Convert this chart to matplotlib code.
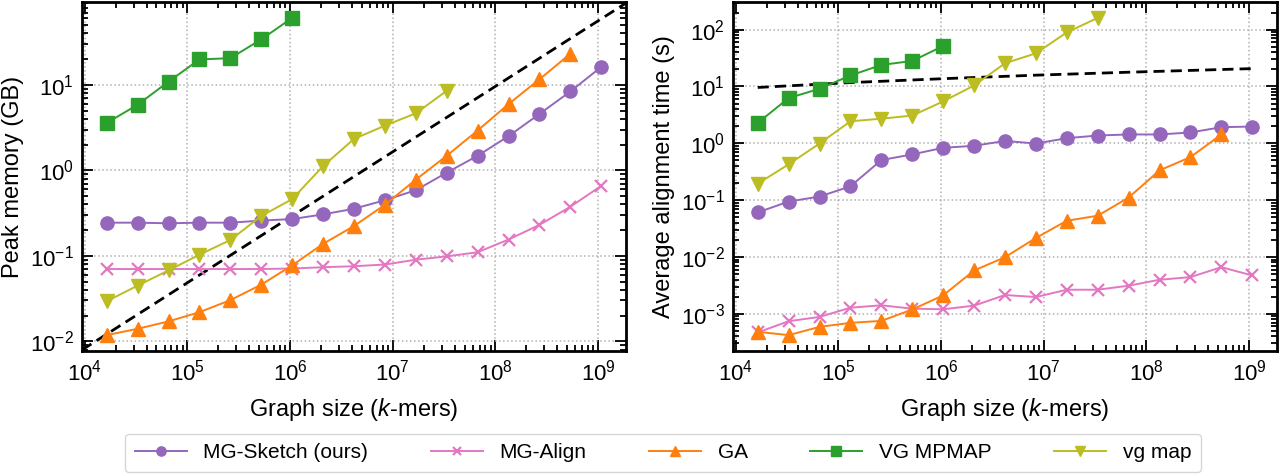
import numpy as np
import matplotlib
matplotlib.use("Agg")
import matplotlib.pyplot as plt

plt.rcParams['font.family'] = ['Liberation Sans', 'DejaVu Sans']
plt.rcParams['mathtext.fontset'] = 'custom'
plt.rcParams['mathtext.rm'] = 'Liberation Sans'
plt.rcParams['mathtext.it'] = 'Liberation Sans:italic'
plt.rcParams['mathtext.bf'] = 'Liberation Sans:bold'

# Graph sizes (k-mers): 2^14 .. 2^30
graph_size = [2.0 ** p for p in range(14, 31)]

labels = ["MG-Sketch (ours)", "MG-Align", "GA", "VG MPMAP", "vg map"]
colors = ["#9467bd", "#e377c2", "#ff7f0e", "#2ca02c", "#bcbd22"]
markers = ["o", "x", "^", "s", "v"]

# Peak memory (GB)
mem_mgsketch = [0.244, 0.244, 0.240, 0.244, 0.244, 0.258, 0.269, 0.305, 0.355,
                0.447, 0.585, 0.939, 1.48, 2.51, 4.56, 8.36, 16.2]
mem_mgalign = [0.070, 0.070, 0.070, 0.070, 0.070, 0.070, 0.071, 0.0735, 0.0755,
               0.0790, 0.0900, 0.0985, 0.110, 0.155, 0.230, 0.375, 0.658]
mem_ga = [0.0118, 0.0140, 0.0171, 0.0219, 0.0303, 0.0460, 0.0773, 0.138, 0.223,
          0.395, 0.778, 1.48, 2.92, 5.96, 11.6, 23.1]
mem_vgmpmap = [3.58, 5.85, 10.9, 19.8, 20.5, 34.0, 60.7]
mem_vgmap = [0.0294, 0.0448, 0.0675, 0.103, 0.153, 0.292, 0.460, 1.12, 2.33,
             3.33, 4.64, 8.51]

# Average alignment time (s)
time_mgsketch = [0.0607, 0.0945, 0.1155, 0.175, 0.507, 0.637, 0.833, 0.903, 1.10,
                 0.99, 1.23, 1.37, 1.43, 1.43, 1.55, 1.92, 1.97]
time_mgalign = [0.000469, 0.000740, 0.000881, 0.00128, 0.00141, 0.00123, 0.00120,
                0.00139, 0.00214, 0.00197, 0.00265, 0.00265, 0.00312, 0.00397,
                0.00442, 0.00661, 0.00472]
time_ga = [0.000482, 0.000421, 0.000589, 0.000692, 0.000750, 0.00119, 0.00211,
           0.00578, 0.00989, 0.0216, 0.0434, 0.0531, 0.111, 0.334, 0.571, 1.43]
time_vgmpmap = [2.28, 6.25, 9.1, 15.6, 23.9, 28.1, 51.5]
time_vgmap = [0.195, 0.426, 0.99, 2.44, 2.71, 3.07, 5.46, 10.4, 25.6, 38.3, 89.3, 161]

# Reference (dashed) lines
ref_mem_x = [1e4, 1e9]
ref_mem_y = [0.0083, 56.0]
ref_time_x = [2.0 ** 14, 2.0 ** 17, 2.0 ** 20, 2.0 ** 23, 2.0 ** 26, 2.0 ** 30]
ref_time_y = [9.6, 11.7, 13.7, 15.8, 17.8, 20.6]

mem_series = [mem_mgsketch, mem_mgalign, mem_ga, mem_vgmpmap, mem_vgmap]
time_series = [time_mgsketch, time_mgalign, time_ga, time_vgmpmap, time_vgmap]

fig = plt.figure(figsize=(12.8, 4.75), dpi=100)
ax1 = fig.add_axes([82 / 1280, 1 - 351 / 475, 544 / 1280, 349 / 475])
ax2 = fig.add_axes([733 / 1280, 1 - 351 / 475, 544 / 1280, 349 / 475])

LABEL_FS = 17
TICK_FS = 16
handles = []
for ax, series in ((ax1, mem_series), (ax2, time_series)):
    for lab, col, mk, ys in zip(labels, colors, markers, series):
        ms = 9.5 if mk != "x" else 9
        mew = 1.0 if mk != "x" else 1.6
        h, = ax.plot(graph_size[:len(ys)], ys, marker=mk, color=col, lw=1.4,
                     ms=ms, mew=mew, label=lab, zorder=3)
        if ax is ax1:
            handles.append(h)
    ax.set_xscale("log")
    ax.set_yscale("log")
    ax.autoscale_view()

# freeze the data-driven limits before adding the reference lines
for ax in (ax1, ax2):
    xl, yl = ax.get_xlim(), ax.get_ylim()
    ax.set_xlim(xl)
    ax.set_ylim(yl)

ax1.axline((ref_mem_x[0], ref_mem_y[0]), (ref_mem_x[1], ref_mem_y[1]),
           ls=(0, (4, 2.2)), color="black", lw=2, zorder=2)
ax2.plot(ref_time_x, ref_time_y, ls=(0, (4, 2.2)), color="black", lw=2, zorder=2,
         scalex=False, scaley=False)

ax1.set_ylabel("Peak memory (GB)", fontsize=LABEL_FS, labelpad=4)
ax2.set_ylabel("Average alignment time (s)", fontsize=LABEL_FS, labelpad=4)
for ax in (ax1, ax2):
    ax.set_xlabel(r"Graph size ($\it{k}$-mers)", fontsize=LABEL_FS, labelpad=8)
    ax.grid(True, which="major", ls=":", color="#b0b0b0", lw=1.1)
    ax.tick_params(which="both", direction="in", top=True, right=True,
                   labelsize=TICK_FS, width=1.3)
    ax.tick_params(which="major", length=8, pad=6)
    ax.tick_params(which="minor", length=4)
    for sp in ax.spines.values():
        sp.set_linewidth(2)
    ax.set_xticks([1e4, 1e5, 1e6, 1e7, 1e8, 1e9])

fig.legend(handles=handles, labels=labels, loc="lower center", ncol=5,
           bbox_to_anchor=(0.518, 0.0), fontsize=15, markerscale=0.7,
           handlelength=2.5, columnspacing=3.0, frameon=True,
           edgecolor="#cccccc", fancybox=True, borderpad=0.45,
           borderaxespad=0.15)

fig.savefig("out.png", dpi=100)
